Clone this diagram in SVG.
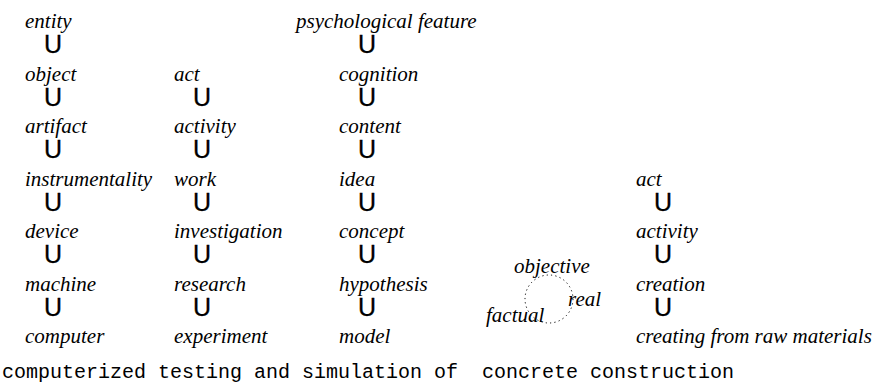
<svg xmlns="http://www.w3.org/2000/svg" width="876" height="390" viewBox="0 0 876 390">
<style>
.l{font-family:'Liberation Serif','Times New Roman',serif;font-style:italic;font-size:21px;fill:#000}
.u{font-family:'Liberation Sans',Arial,sans-serif;font-size:25px;fill:#000;stroke:#000;stroke-width:0.3}
.m{font-family:'Liberation Mono','Courier New',monospace;font-size:20px;fill:#000;white-space:pre}
.c{fill:none;stroke:#000;stroke-width:1;stroke-dasharray:1.2 3.2}
</style>
<rect width="876" height="390" fill="#fff"/>
<g id="col1">
<g id="n-entity"><text class="l" x="25" y="28">entity</text></g>
<g id="n-object"><text class="l" x="25" y="80.5">object</text></g>
<g id="n-artifact"><text class="l" x="25" y="133">artifact</text></g>
<g id="n-instrumentality"><text class="l" x="25" y="185.5">instrumentality</text></g>
<g id="n-device"><text class="l" x="25" y="238">device</text></g>
<g id="n-machine"><text class="l" x="25" y="290.5">machine</text></g>
<g id="n-computer"><text class="l" x="25" y="343">computer</text></g>
</g>
<g id="col2">
<g id="n-act"><text class="l" x="174" y="80.5">act</text></g>
<g id="n-activity"><text class="l" x="174" y="133">activity</text></g>
<g id="n-work"><text class="l" x="174" y="185.5">work</text></g>
<g id="n-investigation"><text class="l" x="174" y="238">investigation</text></g>
<g id="n-research"><text class="l" x="174" y="290.5">research</text></g>
<g id="n-experiment"><text class="l" x="174" y="343">experiment</text></g>
</g>
<g id="col3">
<g id="n-psych"><text class="l" x="296" y="28">psychological feature</text></g>
<g id="n-cognition"><text class="l" x="339" y="80.5">cognition</text></g>
<g id="n-content"><text class="l" x="339" y="133">content</text></g>
<g id="n-idea"><text class="l" x="339" y="185.5">idea</text></g>
<g id="n-concept"><text class="l" x="339" y="238">concept</text></g>
<g id="n-hypothesis"><text class="l" x="339" y="290.5">hypothesis</text></g>
<g id="n-model"><text class="l" x="339" y="343">model</text></g>
</g>
<g id="col4">
<g id="n-act2"><text class="l" x="636" y="185.5">act</text></g>
<g id="n-activity2"><text class="l" x="636" y="238">activity</text></g>
<g id="n-creation"><text class="l" x="636" y="290.5">creation</text></g>
<g id="n-creating"><text class="l" x="636" y="343">creating from raw materials</text></g>
</g>
<g id="n-objective"><text class="l" x="514" y="273">objective</text></g>
<g id="n-real"><text class="l" x="568" y="306">real</text></g>
<g id="n-factual"><text class="l" x="486" y="322">factual</text></g>
<g id="connectors">
<g text-anchor="middle">
<text class="u" x="53" y="53">U</text>
<text class="u" x="53" y="105.5">U</text>
<text class="u" x="53" y="158">U</text>
<text class="u" x="53" y="210.5">U</text>
<text class="u" x="53" y="263">U</text>
<text class="u" x="53" y="315.5">U</text>
<text class="u" x="202" y="105.5">U</text>
<text class="u" x="202" y="158">U</text>
<text class="u" x="202" y="210.5">U</text>
<text class="u" x="202" y="263">U</text>
<text class="u" x="202" y="315.5">U</text>
<text class="u" x="367" y="53">U</text>
<text class="u" x="367" y="105.5">U</text>
<text class="u" x="367" y="158">U</text>
<text class="u" x="367" y="210.5">U</text>
<text class="u" x="367" y="263">U</text>
<text class="u" x="367" y="315.5">U</text>
<text class="u" x="663" y="210.5">U</text>
<text class="u" x="663" y="263">U</text>
<text class="u" x="663" y="315.5">U</text>
</g>
<circle class="c" cx="549" cy="299" r="24"/>
</g>
<text class="m" x="2" y="378">computerized testing and simulation of  concrete construction</text>
</svg>
